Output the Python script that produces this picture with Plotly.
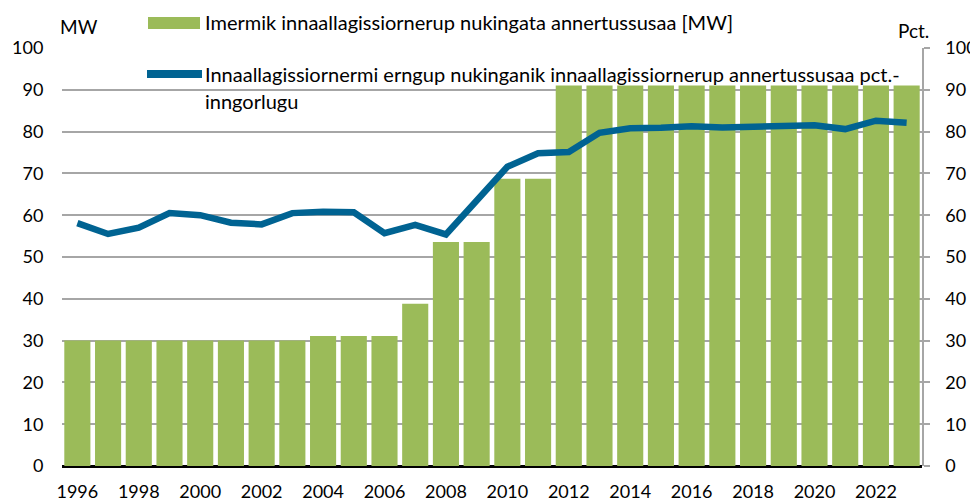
import plotly.graph_objects as go

years = list(range(1996, 2024))
capacity_mw = [30, 30, 30, 30, 30, 30, 30, 30, 31.1, 31.1, 31.1, 38.8, 53.6, 53.6,
               68.7, 68.7, 91, 91, 91, 91, 91, 91, 91, 91, 91, 91, 91, 91]
utilization_pct = [58.1, 55.5, 57.0, 60.5, 60.0, 58.2, 57.8, 60.5, 60.8, 60.7, 55.7, 57.7,
                   55.4, 63.6, 71.6, 74.8, 75.1, 79.7, 80.8, 80.9, 81.3, 81.0, 81.2, 81.3,
                   81.5, 80.6, 82.6, 82.1]
tick_years = list(range(1996, 2024, 2))
y_ticks = list(range(0, 101, 10))

name_bar = "Imermik innaallagissiornerup nukingata annertussusaa [MW]"
name_line_1 = "Innaallagissiornermi erngup nukinganik innaallagissiornerup annertussusaa pct.-"
name_line_2 = "inngorlugu"

GREEN = "#9BBB59"
BLUE = "#006392"
FONT = "Lato, Carlito, Calibri, sans-serif"

fig = go.Figure()
fig.add_trace(go.Bar(x=years, y=capacity_mw, marker=dict(color=GREEN, line=dict(width=0)),
                     name=name_bar, showlegend=False, yaxis="y"))
fig.add_trace(go.Scatter(x=years, y=utilization_pct, mode="lines",
                         line=dict(color=BLUE, width=6.5), name=name_line_1 + name_line_2,
                         showlegend=False, yaxis="y2"))

# page body has an 8px margin, so the figure is 970x494 and offset by 8px
fig.update_layout(
    width=970, height=494, autosize=False,
    margin=dict(l=54, r=56, t=40, b=36, autoexpand=False),
    paper_bgcolor="white", plot_bgcolor="white",
    font=dict(family=FONT, size=20, color="black"),
    bargap=0.15,
    xaxis=dict(range=[1995.5, 2023.5], tickmode="array", tickvals=tick_years,
               ticktext=[str(y) for y in tick_years], showgrid=False, showline=False,
               ticks="outside", ticklen=9, tickcolor="rgba(0,0,0,0)",
               tickfont=dict(size=18), zeroline=False),
    yaxis=dict(range=[0, 100], tickmode="array", tickvals=y_ticks, showgrid=True,
               gridcolor="#A6A6A6", gridwidth=1.5, zeroline=True, zerolinecolor="black",
               zerolinewidth=3, showline=False, ticks="outside", ticklen=14,
               tickcolor="rgba(0,0,0,0)", tickfont=dict(size=18)),
    yaxis2=dict(range=[0, 100], overlaying="y", side="right", tickmode="array",
                tickvals=y_ticks, showgrid=False, zeroline=False, showline=True,
                linecolor="#A6A6A6", linewidth=1.5, ticks="outside", ticklen=6,
                tickcolor="#A6A6A6", tickwidth=1.5, ticklabelstandoff=12,
                tickfont=dict(size=18)),
)

# legend built from shapes/annotations, positions given in window pixels
def px(x):
    return (x - 62) / 860

def py(y):
    return (466 - y) / 418

fig.add_shape(type="rect", xref="paper", yref="paper", x0=px(148), x1=px(200),
              y0=py(29), y1=py(17), fillcolor=GREEN, line=dict(width=0))
fig.add_shape(type="line", xref="paper", yref="paper", x0=px(147), x1=px(202),
              y0=py(74), y1=py(74), line=dict(color=BLUE, width=8))
fig.add_annotation(xref="paper", yref="paper", x=px(203), y=py(22), text=name_bar,
                   showarrow=False, xanchor="left", yanchor="middle", font=dict(size=20))
fig.add_annotation(xref="paper", yref="paper", x=px(203), y=py(74), text=name_line_1,
                   showarrow=False, xanchor="left", yanchor="middle", font=dict(size=20))
fig.add_annotation(xref="paper", yref="paper", x=px(203), y=py(101), text=name_line_2,
                   showarrow=False, xanchor="left", yanchor="middle", font=dict(size=20))
fig.add_annotation(xref="paper", yref="paper", x=px(58), y=py(26), text="MW",
                   showarrow=False, xanchor="left", yanchor="middle", font=dict(size=19))
fig.add_annotation(xref="paper", yref="paper", x=px(931), y=py(30), text="Pct.",
                   showarrow=False, xanchor="right", yanchor="middle", font=dict(size=19))

fig.write_html("out.html")
